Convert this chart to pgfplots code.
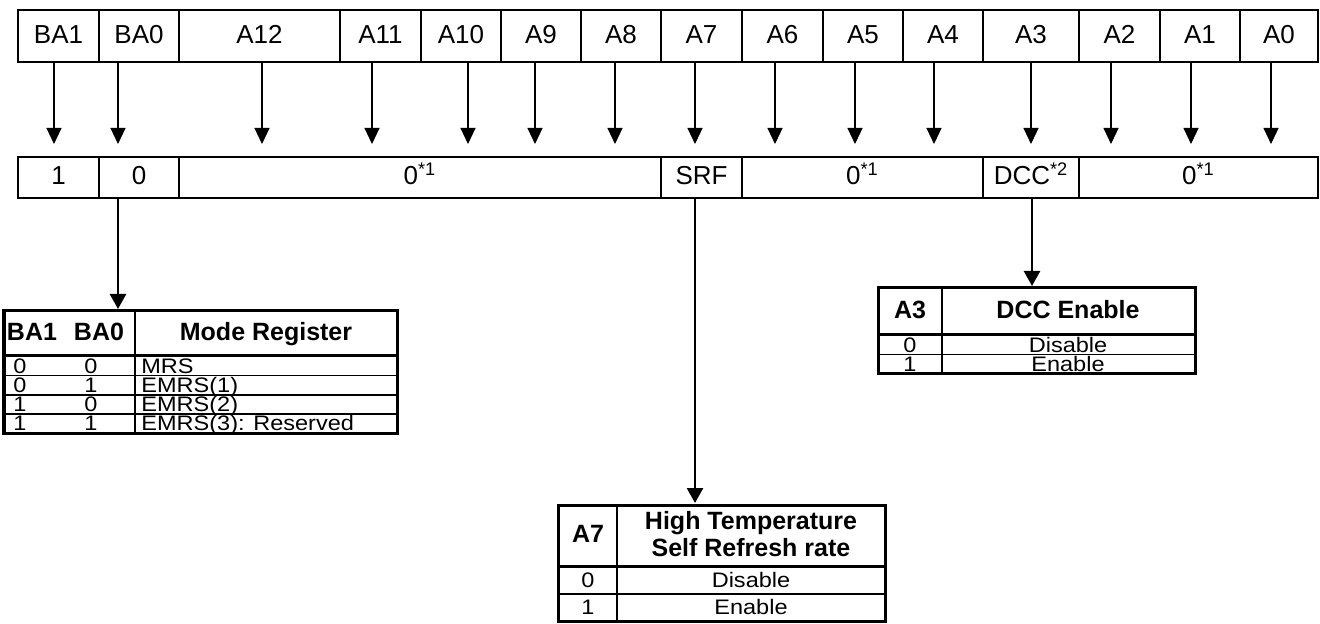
\documentclass[border=0pt]{standalone}
\usepackage{pgfplots}
\pgfplotsset{compat=1.18}
\usepackage{fontspec}
\setmainfont{Liberation Sans}
\newfontfamily\widefont{Liberation Sans}[FakeStretch=1.12]
\usetikzlibrary{arrows.meta}
\begin{document}
\begin{tikzpicture}
\useasboundingbox (0,0) rectangle (660pt,312pt);
\begin{axis}[at={(0,0)},anchor=south west,width=660pt,height=312pt,scale only axis,
  xmin=0,xmax=1320,ymin=0,ymax=624,y dir=reverse,hide axis,clip=false,
  unbounded coords=jump,
  every axis plot/.append style={no marks,black},
  thinl/.style={line width=0.55pt,line cap=rect,line join=miter},
  thickl/.style={line width=1.5pt,line cap=rect,line join=miter},
  toparrow/.style={line width=0.55pt,-{Triangle[width=7.5pt,length=8pt]}},
  botarrow/.style={line width=1.25pt,-{Triangle[width=8pt,length=7.5pt]}},
  ]
% ---- top register row (address bits)
\addplot[thinl] coordinates {(18,10)(1318,10)(1318,62)(18,62)(18,10)};
\addplot[thinl] coordinates {(99,10)(99,62) (nan,nan) (179,10)(179,62) (nan,nan) (340,10)(340,62) (nan,nan)
 (421,10)(421,62) (nan,nan) (501,10)(501,62) (nan,nan) (581,10)(581,62) (nan,nan) (661,10)(661,62) (nan,nan)
 (742,10)(742,62) (nan,nan) (823,10)(823,62) (nan,nan) (903,10)(903,62) (nan,nan) (983,10)(983,62) (nan,nan)
 (1079,10)(1079,62) (nan,nan) (1160,10)(1160,62) (nan,nan) (1240,10)(1240,62)};
% ---- arrows from bits
\pgfplotsinvokeforeach{54,118,262,372,468,535,615,695,775,855,934,1031,1111,1191,1271}{
  \addplot[toparrow] coordinates {(#1,62)(#1,144)};
}
% ---- second row (values)
\addplot[thinl] coordinates {(18,157)(1318,157)(1318,198)(18,198)(18,157)};
\addplot[thinl] coordinates {(99,157)(99,198) (nan,nan) (179,157)(179,198) (nan,nan) (661,157)(661,198) (nan,nan)
 (742,157)(742,198) (nan,nan) (983,157)(983,198) (nan,nan) (1079,157)(1079,198)};
% ---- arrows to tables
\addplot[botarrow] coordinates {(118,198)(118,309)};
\addplot[botarrow] coordinates {(695,198)(695,503)};
\addplot[botarrow] coordinates {(1032,198)(1032,286)};
% ---- Mode register table
\addplot[thinl] coordinates {(135,311)(135,433.5) (nan,nan) (4,375.5)(397,375.5) (nan,nan) (4,395)(397,395) (nan,nan) (4,414)(397,414)};
\addplot[thickl] coordinates {(4,356)(397,356)};
\addplot[thickl] coordinates {(4,311)(397,311)(397,433.5)(4,433.5)(4,311)};
% ---- DCC table
\addplot[thinl] coordinates {(942,288)(942,374) (nan,nan) (878,354.5)(1195,354.5)};
\addplot[thickl] coordinates {(878,335)(1195,335)};
\addplot[thickl] coordinates {(878,288)(1195,288)(1195,374)(878,374)(878,288)};
% ---- A7 table
\addplot[thinl] coordinates {(617,505)(617,621) (nan,nan) (558,594)(885,594)};
\addplot[thickl] coordinates {(558,566)(885,566)};
\addplot[thickl] coordinates {(558,505)(885,505)(885,621)(558,621)(558,505)};

% ---- texts
\tikzset{tt/.style={font=\fontsize{13}{15}\selectfont,inner sep=0pt,text height=0.716em,text depth=0pt},
         hd/.style={font=\bfseries\fontsize{12.5}{14}\selectfont,inner sep=0pt,text height=0.716em,text depth=0pt},
         dt/.style={font=\widefont\fontsize{10.5}{12}\selectfont,inner sep=0pt,text height=0.716em,text depth=0pt}}
\node[tt] at (axis cs:58.5,36) {BA1};
\node[tt] at (axis cs:139,36) {BA0};
\node[tt] at (axis cs:259.5,36) {A12};
\node[tt] at (axis cs:380.5,36) {A11};
\node[tt] at (axis cs:461,36) {A10};
\node[tt] at (axis cs:541,36) {A9};
\node[tt] at (axis cs:621,36) {A8};
\node[tt] at (axis cs:701.5,36) {A7};
\node[tt] at (axis cs:782.5,36) {A6};
\node[tt] at (axis cs:863,36) {A5};
\node[tt] at (axis cs:943,36) {A4};
\node[tt] at (axis cs:1031,36) {A3};
\node[tt] at (axis cs:1119.5,36) {A2};
\node[tt] at (axis cs:1200,36) {A1};
\node[tt] at (axis cs:1279,36) {A0};

\node[tt] at (axis cs:58.5,177.5) {1};
\node[tt] at (axis cs:139,177.5) {0};
\node[tt] at (axis cs:420,177.5) {0\textsuperscript{*1}};
\node[tt] at (axis cs:701.5,177.5) {SRF};
\node[tt] at (axis cs:862.5,177.5) {0\textsuperscript{*1}};
\node[tt] at (axis cs:1031,177.5) {DCC\textsuperscript{*2}};
\node[tt] at (axis cs:1198.5,177.5) {0\textsuperscript{*1}};

% Mode register table texts
\node[hd] at (axis cs:32,333.5) {BA1};
\node[hd] at (axis cs:99,333.5) {BA0};
\node[hd] at (axis cs:266,333.5) {Mode Register};
\node[dt] at (axis cs:20,366.3) {0};   \node[dt] at (axis cs:91,366.3) {0};   \node[dt,anchor=west] at (axis cs:141,366.3) {MRS};
\node[dt] at (axis cs:20,385.5) {0}; \node[dt] at (axis cs:91,385.5) {1}; \node[dt,anchor=west] at (axis cs:141,385.5) {EMRS(1)};
\node[dt] at (axis cs:20,404.5) {1}; \node[dt] at (axis cs:91,404.5) {0}; \node[dt,anchor=west] at (axis cs:141,404.5) {EMRS(2)};
\node[dt] at (axis cs:20,423.7) {1};   \node[dt] at (axis cs:91,423.7) {1};   \node[dt,anchor=west] at (axis cs:141,423.7) {EMRS(3): Reserved};

% DCC table texts
\node[hd] at (axis cs:910,311.5) {A3};
\node[hd] at (axis cs:1068,311.5) {DCC Enable};
\node[dt] at (axis cs:910,345.2) {0}; \node[dt] at (axis cs:1068,345.2) {Disable};
\node[dt] at (axis cs:910,364.3) {1}; \node[dt] at (axis cs:1068,364.3) {Enable};

% A7 table texts
\node[hd] at (axis cs:588,535.5) {A7};
\node[hd] at (axis cs:751,522) {High Temperature};
\node[hd] at (axis cs:751,549) {Self Refresh rate};
\node[dt] at (axis cs:588,580) {0}; \node[dt] at (axis cs:751,580) {Disable};
\node[dt] at (axis cs:588,607.5) {1}; \node[dt] at (axis cs:751,607.5) {Enable};
\end{axis}
\end{tikzpicture}
\end{document}
